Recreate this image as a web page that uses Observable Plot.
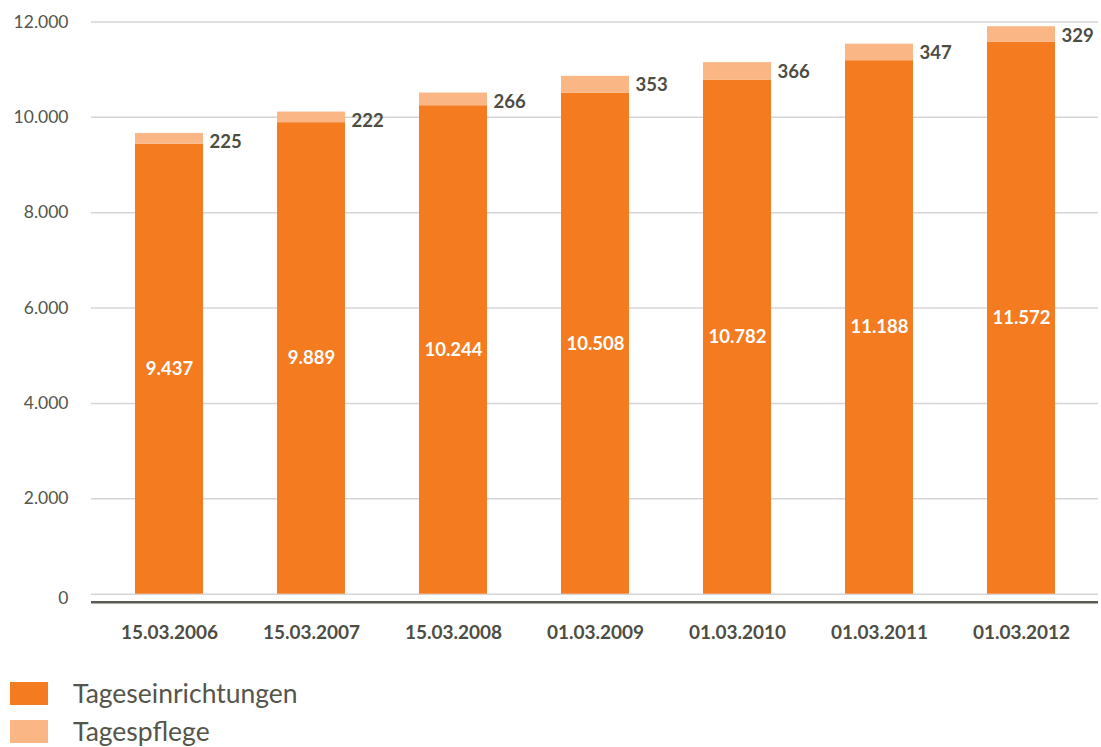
<!DOCTYPE html>
<html>
<head>
<meta charset="utf-8">
<script src="https://cdn.jsdelivr.net/npm/d3@7"></script>
<script src="https://cdn.jsdelivr.net/npm/@observablehq/plot@0.6"></script>
<style>
  body { margin: 0; background: #fff; font-family: Lato, "Open Sans", sans-serif; overflow: hidden; }
  #legend { position: absolute; left: 10px; top: 674px; }
  .item { display: flex; align-items: center; height: 38px; }
  .sw { width: 38px; height: 23px; margin-right: 25px; }
  .lbl { font-size: 26.5px; color: #55554b; line-height: 38px; }
</style>
</head>
<body>
<div id="chart"></div>
<div id="legend"></div>
<script>
const dates = ["15.03.2006","15.03.2007","15.03.2008","01.03.2009","01.03.2010","01.03.2011","01.03.2012"];
const tageseinrichtungen = [9437, 9889, 10244, 10508, 10782, 11188, 11572];
const tagespflege = [225, 222, 266, 353, 366, 347, 329];
const seriesNames = ["Tageseinrichtungen", "Tagespflege"];
const colors = ["#f47b20", "#fab785"];
const yTicks = [0, 2000, 4000, 6000, 8000, 10000, 12000];

const de = d3.formatLocale({decimal: ",", thousands: ".", grouping: [3], currency: ["", " €"]});
const fmt = de.format(",d");

const rows = [];
dates.forEach((d, i) => {
  rows.push({date: d, series: seriesNames[0], value: tageseinrichtungen[i]});
  rows.push({date: d, series: seriesNames[1], value: tagespflege[i]});
});
const totals = dates.map((d, i) => ({date: d, total: tageseinrichtungen[i] + tagespflege[i], pf: tagespflege[i]}));
const inner = dates.map((d, i) => ({date: d, mid: tageseinrichtungen[i] / 2, v: tageseinrichtungen[i]}));

const textColor = "#4d4d44";

const chart = Plot.plot({
  width: 1101,
  height: 660,
  marginLeft: 91,
  marginRight: 3,
  marginTop: 21.5,
  marginBottom: 66.3,
  style: {fontFamily: "Lato, 'Open Sans', sans-serif", background: "#fff"},
  x: {domain: dates, paddingInner: 0.523, paddingOuter: 0.295, label: null},
  y: {domain: [0, 12000], label: null},
  color: {domain: seriesNames, range: colors},
  marks: [
    Plot.gridY(yTicks, {stroke: "#d5d5d5", strokeOpacity: 1, strokeWidth: 1.5}),
    Plot.barY(rows, {x: "date", y: "value", fill: "series", order: seriesNames}),
    Plot.ruleY([0], {dy: 8, stroke: "#5b5b52", strokeWidth: 2.5}),
    Plot.axisY(yTicks.filter(t => t > 0), {tickSize: 0, tickPadding: 23, tickFormat: fmt, fontSize: 17.5, fill: "#55554b"}),
    Plot.axisY([0], {tickSize: 0, tickPadding: 23, tickFormat: fmt, fontSize: 17.5, fill: "#55554b", dy: 4}),
    Plot.axisX({tickSize: 0, tickPadding: 31, fontSize: 19, fontWeight: "bold", fill: textColor}),
    Plot.text(inner, {x: "date", y: "mid", text: d => fmt(d.v), fill: "white", fontSize: 18.5, fontWeight: "bold"}),
    Plot.text(totals, {x: "date", y: "total", text: d => fmt(d.pf), dx: 40, dy: 9, textAnchor: "start", fill: textColor, fontSize: 18.5, fontWeight: "bold"})
  ]
});
document.getElementById("chart").append(chart);

const leg = document.getElementById("legend");
seriesNames.forEach((s, i) => {
  const it = document.createElement("div");
  it.className = "item";
  it.innerHTML = `<div class="sw" style="background:${colors[i]}"></div><div class="lbl">${s}</div>`;
  leg.append(it);
});
</script>
</body>
</html>
